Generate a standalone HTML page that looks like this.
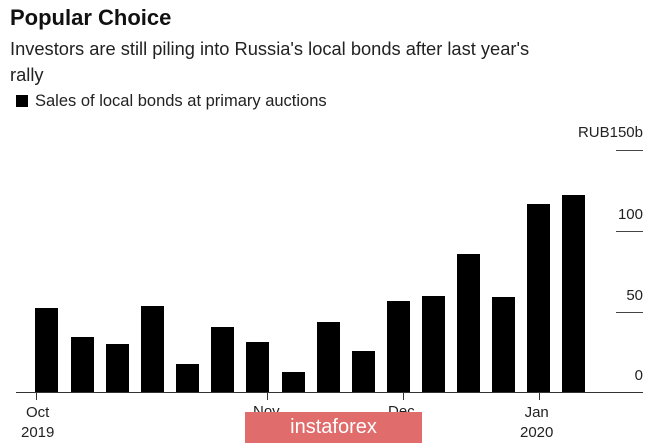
<!DOCTYPE html>
<html><head><style>
body{margin:0;width:665px;height:443px;background:#fff;font-family:"Liberation Sans",sans-serif;position:relative;overflow:hidden;color:#111}
.a{position:absolute;white-space:nowrap}
.b{position:absolute;background:#000;width:23px}
</style></head><body>
<div class="a" style="left:10px;top:5px;font-size:22px;font-weight:bold">Popular Choice</div>
<div class="a" style="left:10px;top:36px;font-size:18.3px;line-height:26px;color:#222">Investors are still piling into Russia's local bonds after last year's<br>rally</div>
<div class="a" style="left:16px;top:95px;width:12px;height:12px;background:#000"></div>
<div class="a" style="left:35px;top:92px;font-size:16.5px;color:#222">Sales of local bonds at primary auctions</div>
<div class="a" style="right:22px;top:124px;font-size:15px;color:#222">RUB150b</div>
<div class="a" style="left:616px;top:150px;width:27px;height:1px;background:#444"></div>
<div class="a" style="right:22px;top:206px;font-size:15px;color:#222">100</div>
<div class="a" style="left:616px;top:231px;width:27px;height:1px;background:#444"></div>
<div class="a" style="right:22px;top:287px;font-size:15px;color:#222">50</div>
<div class="a" style="left:616px;top:312px;width:27px;height:1px;background:#444"></div>
<div class="a" style="right:22px;top:367px;font-size:15px;color:#222">0</div>
<div class="b" style="left:35px;top:308px;height:84px"></div>
<div class="b" style="left:71px;top:337px;height:55px"></div>
<div class="b" style="left:106px;top:344px;height:48px"></div>
<div class="b" style="left:141px;top:306px;height:86px"></div>
<div class="b" style="left:176px;top:364px;height:28px"></div>
<div class="b" style="left:211px;top:327px;height:65px"></div>
<div class="b" style="left:246px;top:342px;height:50px"></div>
<div class="b" style="left:282px;top:372px;height:20px"></div>
<div class="b" style="left:317px;top:322px;height:70px"></div>
<div class="b" style="left:352px;top:351px;height:41px"></div>
<div class="b" style="left:387px;top:301px;height:91px"></div>
<div class="b" style="left:422px;top:296px;height:96px"></div>
<div class="b" style="left:457px;top:254px;height:138px"></div>
<div class="b" style="left:492px;top:297px;height:95px"></div>
<div class="b" style="left:527px;top:204px;height:188px"></div>
<div class="b" style="left:562px;top:195px;height:197px"></div>
<div class="a" style="left:16px;top:392px;width:627px;height:1px;background:#333"></div>
<div class="a" style="left:36px;top:392px;width:1px;height:8px;background:#333"></div>
<div class="a" style="left:267px;top:392px;width:1px;height:8px;background:#333"></div>
<div class="a" style="left:403px;top:392px;width:1px;height:8px;background:#333"></div>
<div class="a" style="left:539px;top:392px;width:1px;height:8px;background:#333"></div>
<div class="a" style="left:21px;top:403px;font-size:15px;line-height:20px;text-align:center;color:#222">Oct<br>2019</div>
<div class="a" style="left:253px;top:403px;font-size:15px;color:#222">Nov</div>
<div class="a" style="left:388px;top:403px;font-size:15px;color:#222">Dec</div>
<div class="a" style="left:520px;top:403px;font-size:15px;line-height:20px;text-align:center;color:#222">Jan<br>2020</div>
<div class="a" style="left:245px;top:412px;width:177px;height:31px;background:#e06c6c;color:#fff;font-size:20px;line-height:31px;text-align:center">instaforex</div>
</body></html>
